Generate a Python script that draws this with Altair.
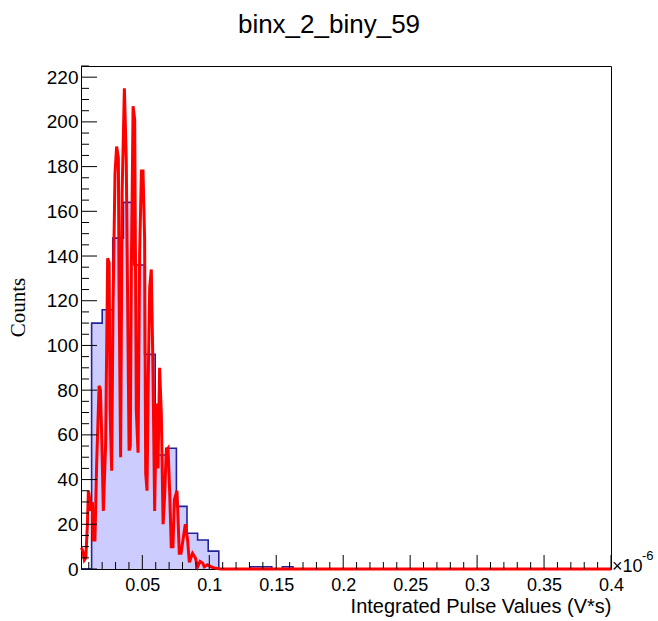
import altair as alt
import pandas as pd
import numpy as np

# ---------------- data ----------------
title_text = "binx_2_biny_59"
x_title = "Integrated Pulse Values (V*s)"
y_title = "Counts"

x_min, x_max = 0.0042, 0.4
y_max = 225
n_bins = 50

# blue histogram (50 bins)
bin_counts = [0, 110, 116, 148, 164, 136, 96, 51, 54, 28,
              16, 13, 8, 0, 0, 0, 1, 1, 0, 1] + [0] * 30

# red curve
red_x = [0.0045, 0.0056, 0.0067, 0.0078, 0.0090, 0.0097, 0.0105, 0.0116, 0.0127, 0.0134,
         0.0146, 0.0159, 0.0177, 0.0187, 0.0196, 0.0209, 0.0226, 0.0241, 0.0252, 0.0259,
         0.0271, 0.0281, 0.0296, 0.0308, 0.0321, 0.0326, 0.0338, 0.0349, 0.0366, 0.0380,
         0.0401, 0.0410, 0.0418, 0.0431, 0.0443, 0.0455, 0.0468, 0.0480, 0.0493, 0.0505,
         0.0517, 0.0525, 0.0535, 0.0545, 0.0555, 0.0567, 0.0580, 0.0592, 0.0605, 0.0617,
         0.0629, 0.0642, 0.0655, 0.0666, 0.0679, 0.0692, 0.0704, 0.0716, 0.0729, 0.0739,
         0.0759, 0.0776, 0.0789, 0.0806, 0.0821, 0.0838, 0.0851, 0.0875, 0.0896, 0.0913,
         0.0931, 0.0950, 0.0963, 0.0987, 0.1013, 0.1037, 0.1082, 0.4]
red_y = [9.5, 8, 4, 5, 20, 35, 32, 26, 30, 13,
         13, 47, 82, 80, 61, 26, 56, 139, 137, 71,
         44, 117, 177, 189, 184, 127, 50, 168, 215, 183,
         53, 55, 134, 207, 201, 71, 52, 141, 178, 178,
         148, 43, 35, 88, 126, 134, 87, 26, 74, 45,
         90, 69, 20, 32, 53, 54, 35, 10, 10, 31,
         35, 7, 7, 14, 20, 13, 3, 7, 5, 1,
         3.4, 2.7, 1, 1.9, 1, 0.5, 0, 0]

# axis ticks
x_major = [0.05, 0.1, 0.15, 0.2, 0.25, 0.3, 0.35, 0.4]
x_minor = [k / 100 for k in range(1, 40) if k % 5]
y_major = list(range(0, 221, 20))
y_minor = [v for v in range(5, 226, 5) if v % 20]

# ---------------- tables ----------------
edges = np.linspace(x_min, x_max, n_bins + 1)
step_df = pd.DataFrame({"x": edges, "y": bin_counts + [bin_counts[-1]]})
red_df = pd.DataFrame({"x": red_x, "y": red_y})

W, H = 530, 503
SANS = "Liberation Sans"

xscale = alt.Scale(domain=[x_min, x_max], nice=False, zero=False)
yscale = alt.Scale(domain=[0, y_max], nice=False, zero=True)

xaxis = alt.Axis(values=x_major, format="~g", title=x_title, ticks=False, tickSize=0,
                 domain=False, grid=False, labelFont=SANS, labelFontSize=18,
                 labelPadding=7, labelFlush=False, labelOverlap=False, labelColor="black",
                 titleFont=SANS, titleFontSize=20, titleFontWeight="normal",
                 titleColor="black", titleX=W, titleY=43, titleAlign="right",
                 titleBaseline="alphabetic", titleAnchor="end")
yaxis = alt.Axis(values=y_major, title=y_title, ticks=False, tickSize=0,
                 domain=False, grid=False, labelFont=SANS, labelFontSize=19,
                 labelPadding=3, labelFlush=False, labelOverlap=False, labelColor="black",
                 titleFont="Liberation Serif", titleFontSize=21, titleFontWeight="normal",
                 titleColor="black", titleX=-63, titleY=241, titleAngle=270,
                 titleAlign="center", titleBaseline="middle")


def X(field):
    return alt.X(field, type="quantitative", scale=xscale, axis=xaxis)


def Y(field):
    return alt.Y(field, type="quantitative", scale=yscale, axis=yaxis)


fill = alt.Chart(step_df).mark_area(
    interpolate="step-after", color="#ccccff", opacity=1).encode(
    x=X("x"), y=Y("y"))

outline = alt.Chart(step_df).mark_line(
    interpolate="step-after", color="#22229a", strokeWidth=1.6).encode(
    x=X("x"), y=Y("y"))

red = alt.Chart(red_df).mark_line(color="#ff0000", strokeWidth=3).encode(
    x=X("x"), y=Y("y"))

xmaj = alt.Chart(pd.DataFrame({"x": x_major})).mark_rule(color="black", strokeWidth=1).encode(
    x=X("x"), y=alt.value(H), y2=alt.value(H - 14))
xmin_t = alt.Chart(pd.DataFrame({"x": x_minor})).mark_rule(color="black", strokeWidth=1).encode(
    x=X("x"), y=alt.value(H), y2=alt.value(H - 7))
ymaj = alt.Chart(pd.DataFrame({"y": y_major})).mark_rule(color="black", strokeWidth=1).encode(
    y=Y("y"), x=alt.value(0), x2=alt.value(16))
ymin_t = alt.Chart(pd.DataFrame({"y": y_minor})).mark_rule(color="black", strokeWidth=1).encode(
    y=Y("y"), x=alt.value(0), x2=alt.value(8))

exp_base = alt.Chart(pd.DataFrame({"t": ["×10"]})).mark_text(
    font=SANS, fontSize=18, align="left", baseline="alphabetic", color="black").encode(
    x=alt.value(531), y=alt.value(506), text="t:N")
exp_sup = alt.Chart(pd.DataFrame({"t": ["-6"]})).mark_text(
    font=SANS, fontSize=13, align="left", baseline="alphabetic", color="black").encode(
    x=alt.value(561), y=alt.value(494), text="t:N")

chart = alt.layer(fill, outline, red, xmaj, xmin_t, ymaj, ymin_t, exp_base, exp_sup).properties(
    width=W, height=H,
    title=alt.TitleParams(title_text, font=SANS, fontSize=26, fontWeight="normal",
                          anchor="middle", dx=-17, offset=28, color="black"),
    autosize=alt.AutoSizeParams(type="none"),
    padding={"left": 81, "top": 66, "right": 47, "bottom": 52},
    background="white",
).configure_view(stroke="black", strokeWidth=1)

chart.save("out.html", embed_options={"renderer": "svg", "actions": False})
